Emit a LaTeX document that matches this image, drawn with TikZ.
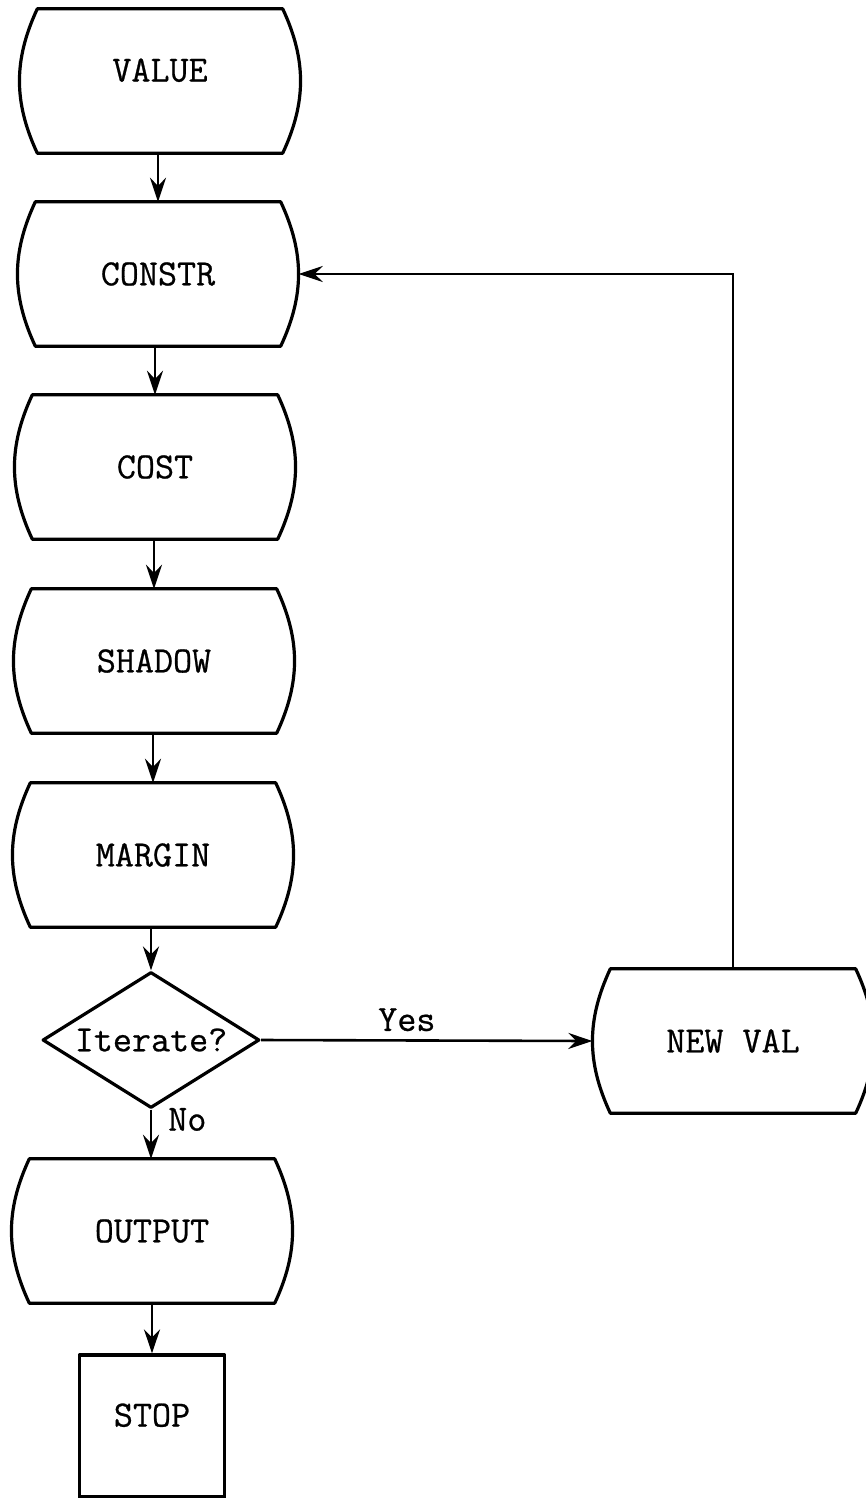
\documentclass[tikz,border=0pt]{standalone}
\usepackage{fontspec}
\newfontfamily\typefont{Latin Modern Mono}[UprightFeatures={FakeBold=0.7}]
\usetikzlibrary{shapes.geometric,arrows.meta}
\begin{document}
\begin{tikzpicture}[x=1pt,y=-1pt,
    every node/.style={font=\typefont\fontsize{37}{42}\selectfont, inner sep=0pt},
    flow/.style={minimum width=281pt, minimum height=144pt},
    lift/.style={text depth=22pt},
    outline/.style={line width=3.2pt, line join=round},
    arr/.style={line width=2.6pt, -{Stealth[length=24pt,width=16pt,inset=8pt]}}]
    \useasboundingbox (0,0) rectangle (865,1498);
    % main column
    \node[flow,lift] (value) at (160,81) {VALUE};
    \node[flow] (constr) at (158,274) {CONSTR};
    \node[flow] (cost) at (155,467) {COST};
    \node[flow] (shadow) at (154,661) {SHADOW};
    \node[flow] (margin) at (153,855) {MARGIN};
    \node[diamond, draw, outline, aspect=1.6, minimum width=217pt, minimum height=136pt] (iter) at (151,1040) {Iterate?};
    \node[flow] (output) at (152,1231) {OUTPUT};
    \node[draw, outline, lift, minimum width=145pt, minimum height=142pt] (stop) at (152,1426) {STOP};
    % side branch
    \node[flow] (newval) at (733,1041) {NEW VAL};
    % curved-side boxes
    \foreach \n in {value,constr,cost,shadow,margin,newval,output}
      \draw[outline] ([xshift=18pt]\n.north west) -- ([xshift=-18pt]\n.north east)
        to[bend left=25] ([xshift=-18pt]\n.south east) -- ([xshift=18pt]\n.south west)
        to[bend left=25] ([xshift=18pt]\n.north west) -- cycle;
    \draw[arr] (constr.north |- value.south) -- (constr.north);
    \draw[arr] (cost.north |- constr.south) -- (cost.north);
    \draw[arr] (shadow.north |- cost.south) -- (shadow.north);
    \draw[arr] (margin.north |- shadow.south) -- (margin.north);
    \draw[arr] (iter.north |- margin.south) -- (iter.north);
    \draw[arr] (iter.south) -- node[pos=0.2, right=16pt]{No} (iter.south |- output.north);
    \draw[arr] (output.south) -- (output.south |- stop.north);
    \draw[arr] (iter.east) -- node[pos=0.44, above=8pt]{Yes} (newval.west);
    \draw[arr] (newval.north) |- (constr.east);
\end{tikzpicture}
\end{document}
